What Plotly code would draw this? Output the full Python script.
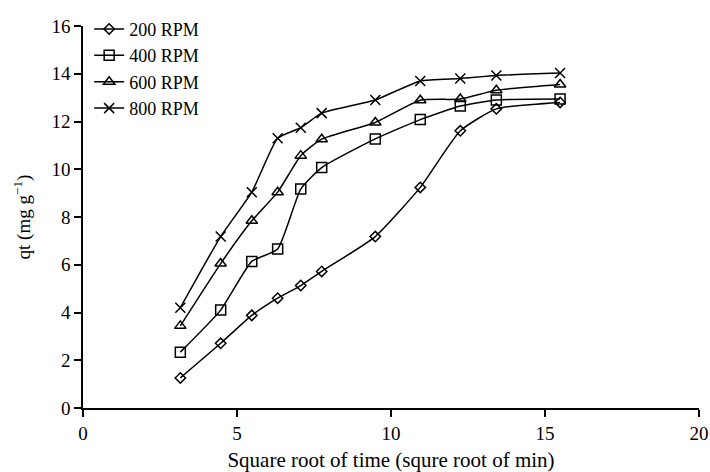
import plotly.graph_objects as go

x_sqrt_time = [3.16, 4.47, 5.48, 6.32, 7.07, 7.75, 9.49, 10.95, 12.25, 13.42, 15.49]
q_200 = [1.26, 2.71, 3.88, 4.6, 5.13, 5.72, 7.18, 9.24, 11.61, 12.53, 12.8]
q_400 = [2.34, 4.1, 6.14, 6.66, 9.17, 10.07, 11.27, 12.08, 12.65, 12.9, 12.94]
q_600 = [3.44, 6.05, 7.84, 9.04, 10.57, 11.26, 11.96, 12.89, 12.94, 13.31, 13.55]
q_800 = [4.2, 7.18, 9.04, 11.3, 11.74, 12.35, 12.9, 13.7, 13.8, 13.93, 14.03]

series = [
    ("200 RPM", q_200, "diamond-open", 8),
    ("400 RPM", q_400, "square-open", 10),
    ("600 RPM", q_600, "triangle-up-open", 10),
    ("800 RPM", q_800, "x-thin-open", 10),
]

font_family = "Liberation Serif, Times New Roman, serif"

fig = go.Figure()
for name, yv, sym, sz in series:
    fig.add_trace(go.Scatter(
        x=x_sqrt_time, y=yv, name=name, mode="lines+markers",
        line=dict(color="black", width=1.5, shape="spline", smoothing=0.5),
        marker=dict(symbol=sym, size=sz, color="black",
                    line=dict(color="black", width=1.5)),
    ))

fig.update_layout(
    width=710, height=472,
    margin=dict(l=83, r=11, t=19, b=64),
    paper_bgcolor="white", plot_bgcolor="white",
    font=dict(family=font_family, size=18, color="black"),
    showlegend=True,
    legend=dict(x=0.01, y=1.04, xanchor="left", yanchor="top",
                bgcolor="rgba(0,0,0,0)", font=dict(size=18, color="black"),
                tracegroupgap=0, itemwidth=30),
    xaxis=dict(range=[0, 20], tickvals=[0, 5, 10, 15, 20], automargin=False,
               showline=True, linecolor="black", linewidth=1.5,
               ticks="outside", ticklen=7, tickcolor="black", tickwidth=1.5,
               showgrid=False, zeroline=False, tickfont=dict(size=19, color="black"),
               title=dict(text="Square root of time (squre root of min)",
                          font=dict(size=21, color="black"), standoff=13)),
    yaxis=dict(range=[0, 16], tickvals=[0, 2, 4, 6, 8, 10, 12, 14, 16], automargin=False,
               showline=True, linecolor="black", linewidth=1.5,
               ticks="outside", ticklen=7, tickcolor="black", tickwidth=1.5,
               showgrid=False, zeroline=False, tickfont=dict(size=19, color="black"),
               title=dict(text="qt (mg g<sup>−1</sup>)", font=dict(size=19, color="black"),
                          standoff=16)),
)

fig.write_html(
    "out.html",
    config={"displayModeBar": False},
    post_script="document.body.style.margin='0';document.body.style.overflow='hidden';",
)
